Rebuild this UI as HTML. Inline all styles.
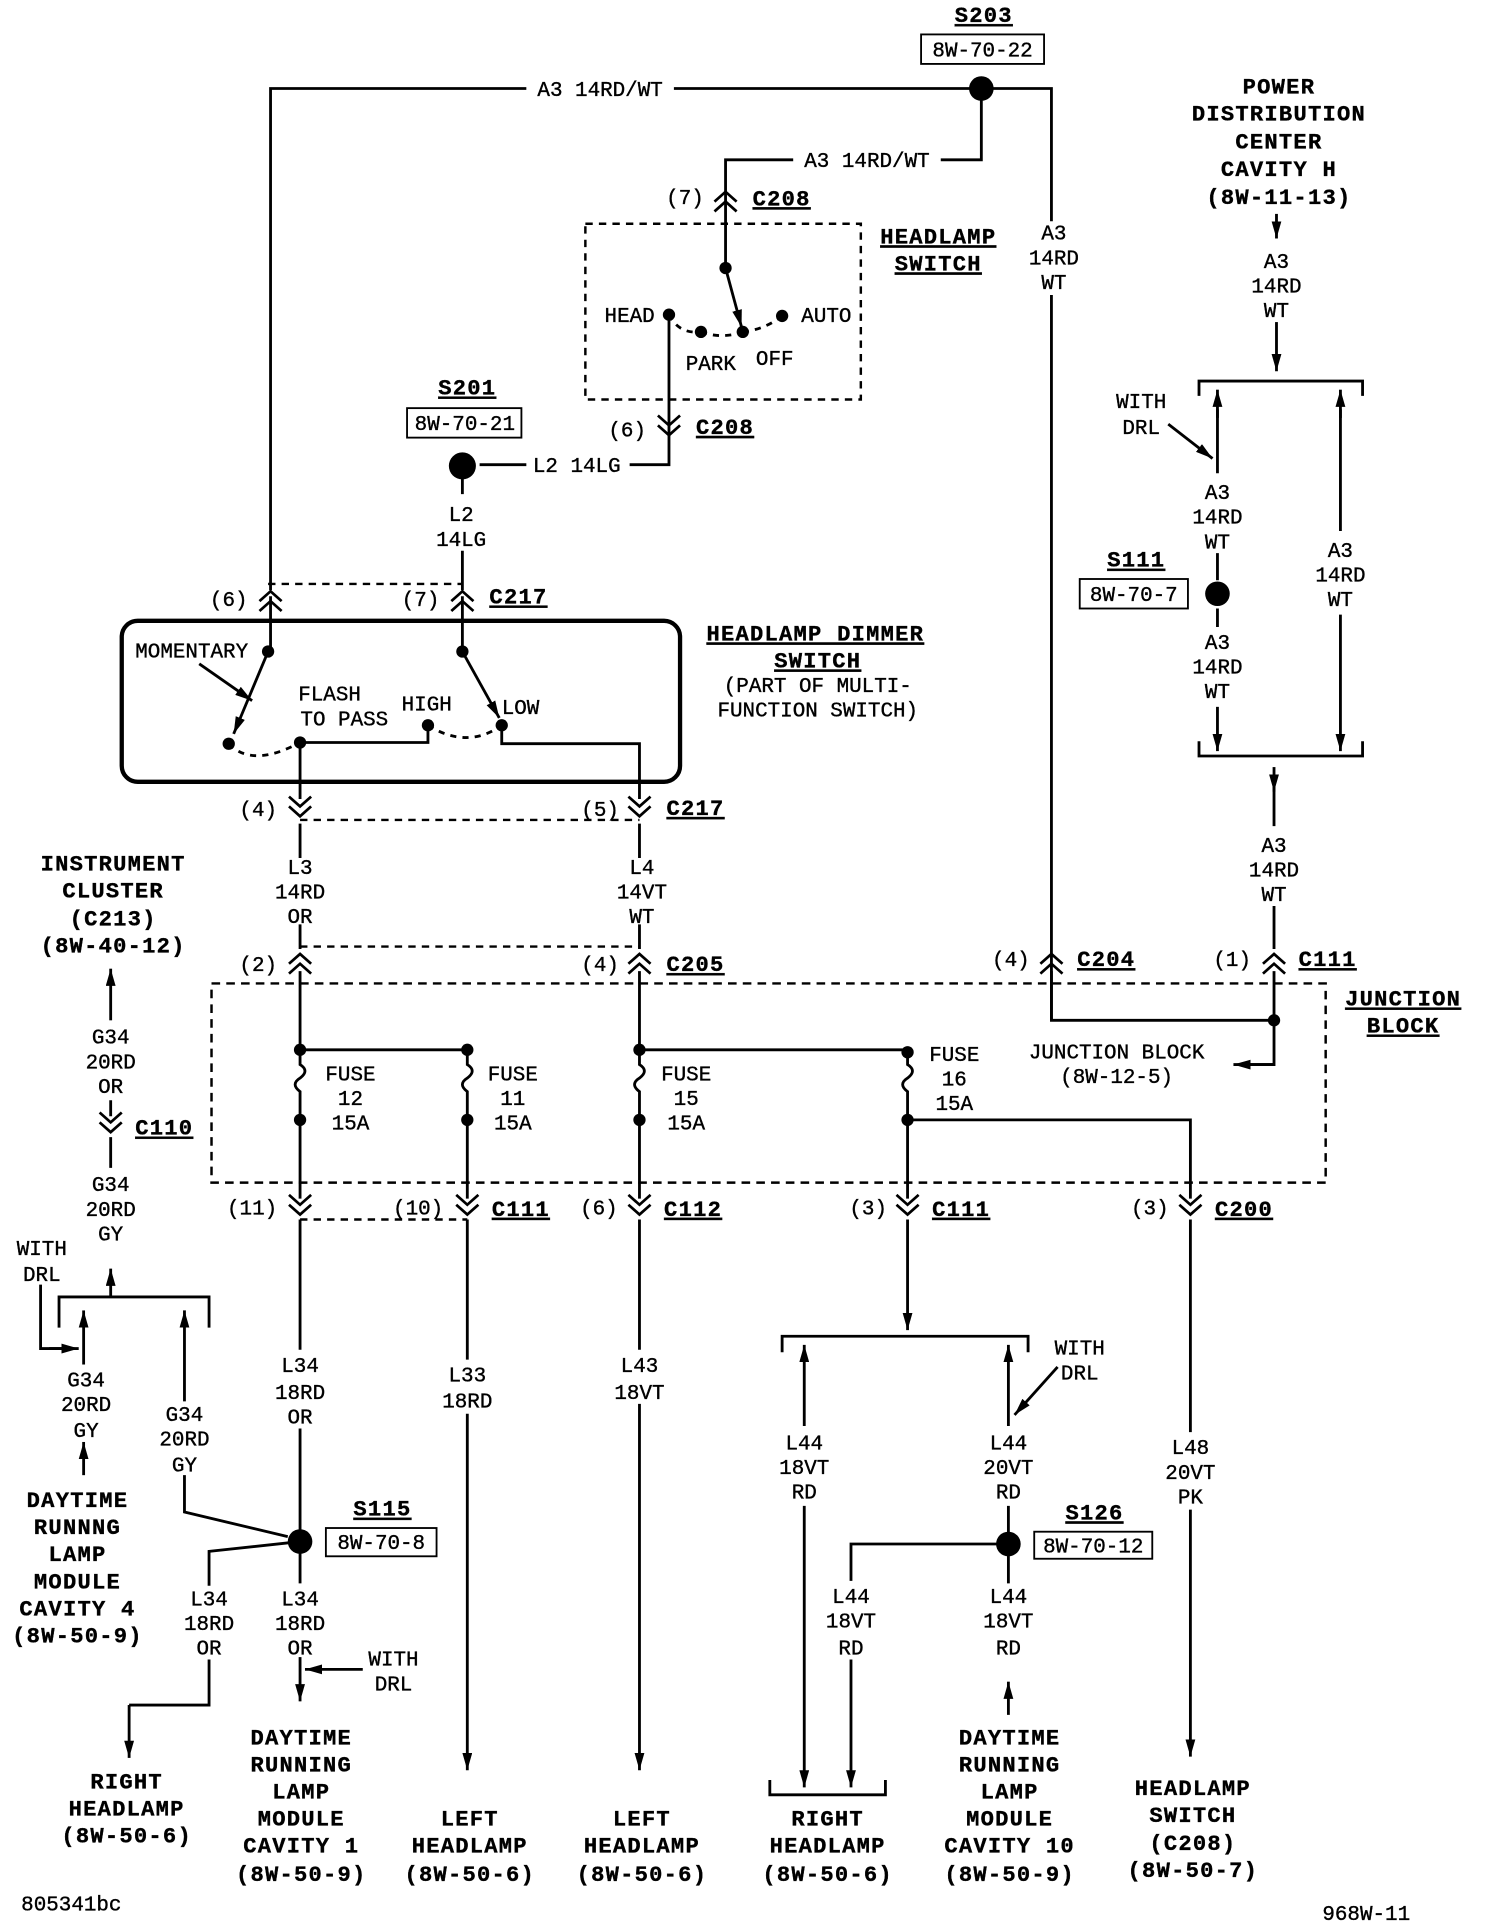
<!DOCTYPE html>
<html><head><meta charset="utf-8"><style>
html,body{margin:0;padding:0;background:#fff;}
svg{display:block;}
text{font-family:"Liberation Mono",monospace;font-size:17px;fill:#000;text-anchor:middle;stroke:#000;stroke-width:0.3px;}
.b{font-weight:bold;font-size:18px;letter-spacing:1px;}
.l{text-anchor:start;}
.r{text-anchor:end;}
</style></head><body>
<svg width="1488" height="1930" viewBox="0 0 1210 1570" preserveAspectRatio="none" xmlns="http://www.w3.org/2000/svg">
<defs>
<marker id="a" viewBox="0 0 14 8" refX="14" refY="4" markerWidth="14" markerHeight="8" orient="auto" markerUnits="userSpaceOnUse"><path d="M0,0 L14,4 L0,8 z"/></marker>
<symbol id="cu" overflow="visible"><polyline points="-9,4 0,-4 9,4" fill="none" stroke="#000" stroke-width="2.2"/><polyline points="-9,12 0,4 9,12" fill="none" stroke="#000" stroke-width="2.2"/></symbol>
<symbol id="cd" overflow="visible"><polyline points="-9,-12 0,-4 9,-12" fill="none" stroke="#000" stroke-width="2.2"/><polyline points="-9,-4 0,4 9,-4" fill="none" stroke="#000" stroke-width="2.2"/></symbol>
</defs>
<g fill="none" stroke="#000" stroke-width="2.3">
<path d="M220,480 V72 H428 M548,72 H798 H855 V180 M855,240 V830 H1036"/>
<path d="M798,72 V130 H765 M645,130 H590 V218"/>
<rect x="476" y="182" width="224" height="143" stroke-dasharray="6,5" stroke-width="2"/>
<line x1="590" y1="218" x2="603" y2="266" marker-end="url(#a)"/>
<path d="M544,256 Q552,272 570,270 M570,270 Q587,276 604,270 M604,270 Q622,268 636,257" stroke-dasharray="5,5"/>
<path d="M544,256 V378 H512 M428,378 H390"/>
<path d="M376,378 V402 M376,448 V480"/>
<rect x="99" y="505" width="454" height="131" rx="13" stroke-width="3.5"/>
<line x1="218" y1="475" x2="376" y2="475" stroke-dasharray="6,5" stroke-width="2"/>
<path d="M220,485 V530 M376,485 V530"/>
<line x1="218" y1="530" x2="190" y2="597" marker-end="url(#a)"/>
<line x1="162" y1="540" x2="205" y2="570" marker-end="url(#a)"/>
<line x1="376" y1="530" x2="406" y2="584" marker-end="url(#a)"/>
<path d="M186,605 Q205,625 244,604 M348,590 Q380,610 408,590" stroke-dasharray="5,5"/>
<path d="M244,604 V650 M244,670 V698 M244,752 V772 M244,790 V854 M244,604 H348 V590"/>
<path d="M408,590 V605 H520 V650 M520,670 V698 M520,752 V772 M520,790 V854"/>
<line x1="244" y1="667" x2="520" y2="667" stroke-dasharray="6,5" stroke-width="2"/>
<line x1="244" y1="770" x2="520" y2="770" stroke-dasharray="6,5" stroke-width="2"/>
<rect x="172" y="800" width="906" height="162" stroke-dasharray="7,5" stroke-width="2"/>
<path d="M244,854 H380 M520,854 H738"/>
<path d="M244,854 V866 q8,5 0,11 q-8,5 0,11 V975 M380,854 V866 q8,5 0,11 q-8,5 0,11 V975 M520,854 V866 q8,5 0,11 q-8,5 0,11 V975 M738,854 V866 q8,5 0,11 q-8,5 0,11 V975"/>
<path d="M738,911 H968 V975"/>
<line x1="244" y1="992" x2="380" y2="992" stroke-dasharray="6,5" stroke-width="2"/>
<path d="M1036,830 V866 H1015" />
<line x1="1036" y1="866" x2="1003" y2="866" marker-end="url(#a)"/>
<line x1="1038" y1="174" x2="1038" y2="194" marker-end="url(#a)"/>
<line x1="1038" y1="262" x2="1038" y2="302" marker-end="url(#a)"/>
<path d="M975,322 V310 H1108 V322 M975,603 V615 H1108 V603"/>
<line x1="990" y1="340" x2="990" y2="317" marker-end="url(#a)"/>
<path d="M990,333 V385 M990,450 V472 M990,495 V510"/>
<line x1="990" y1="575" x2="990" y2="611" marker-end="url(#a)"/>
<line x1="1090" y1="340" x2="1090" y2="317" marker-end="url(#a)"/>
<path d="M1090,333 V432"/>
<line x1="1090" y1="500" x2="1090" y2="611" marker-end="url(#a)"/>
<line x1="950" y1="345" x2="986" y2="373" marker-end="url(#a)"/>
<line x1="1036" y1="624" x2="1036" y2="644" marker-end="url(#a)"/>
<path d="M1036,640 V672 M1036,737 V772 M1036,790 V830"/>
<path d="M855,790 V830"/>
<line x1="90" y1="830" x2="90" y2="788" marker-end="url(#a)"/>
<path d="M90,895 V908 M90,925 V950"/>
<line x1="90" y1="1055" x2="90" y2="1032" marker-end="url(#a)"/>
<path d="M48,1080 V1055 H170 V1080"/>
<path d="M33,1045 V1097 H50"/>
<line x1="40" y1="1097" x2="64" y2="1097" marker-end="url(#a)"/>
<line x1="68" y1="1110" x2="68" y2="1066" marker-end="url(#a)"/>
<line x1="150" y1="1140" x2="150" y2="1066" marker-end="url(#a)"/>
<line x1="68" y1="1200" x2="68" y2="1173" marker-end="url(#a)"/>
<path d="M150,1200 V1230 L234,1250"/>
<path d="M244,992 V1098 M244,1162 V1254 V1288"/>
<path d="M244,1254 L170,1262 V1290 M170,1350 V1387 H105"/>
<line x1="105" y1="1387" x2="105" y2="1430" marker-end="url(#a)"/>
<line x1="244" y1="1348" x2="244" y2="1384" marker-end="url(#a)"/>
<line x1="295" y1="1358" x2="248" y2="1358" marker-end="url(#a)"/>
<path d="M380,992 V1106"/>
<line x1="380" y1="1150" x2="380" y2="1440" marker-end="url(#a)"/>
<path d="M520,992 V1098"/>
<line x1="520" y1="1142" x2="520" y2="1440" marker-end="url(#a)"/>
<line x1="738" y1="992" x2="738" y2="1082" marker-end="url(#a)"/>
<path d="M636,1100 V1087 H836 V1100"/>
<line x1="654" y1="1160" x2="654" y2="1094" marker-end="url(#a)"/>
<line x1="820" y1="1160" x2="820" y2="1094" marker-end="url(#a)"/>
<line x1="860" y1="1112" x2="825" y2="1151" marker-end="url(#a)"/>
<line x1="654" y1="1225" x2="654" y2="1454" marker-end="url(#a)"/>
<path d="M820,1225 V1256 H692 V1286 M820,1256 V1288"/>
<line x1="692" y1="1350" x2="692" y2="1454" marker-end="url(#a)"/>
<line x1="820" y1="1395" x2="820" y2="1368" marker-end="url(#a)"/>
<path d="M626,1448 V1460 H720 V1448"/>
<path d="M968,992 V1165"/>
<line x1="968" y1="1228" x2="968" y2="1429" marker-end="url(#a)"/>
<rect x="749" y="28" width="100" height="24" stroke-width="1.5"/>
<rect x="331" y="332" width="93" height="24" stroke-width="1.5"/>
<rect x="878" y="471" width="88" height="24" stroke-width="1.5"/>
<rect x="265" y="1243" width="90" height="23" stroke-width="1.5"/>
<rect x="841" y="1246" width="96" height="22" stroke-width="1.5"/>
</g>
<use href="#cu" x="590" y="160"/><use href="#cd" x="544" y="350"/>
<use href="#cu" x="220" y="485"/><use href="#cu" x="376" y="485"/>
<use href="#cd" x="244" y="660"/><use href="#cd" x="520" y="660"/>
<use href="#cu" x="244" y="780"/><use href="#cu" x="520" y="780"/>
<use href="#cu" x="855" y="780"/><use href="#cu" x="1036" y="780"/>
<use href="#cd" x="90" y="917"/>
<use href="#cd" x="244" y="984"/><use href="#cd" x="380" y="984"/><use href="#cd" x="520" y="984"/><use href="#cd" x="738" y="984"/><use href="#cd" x="968" y="984"/>
<g fill="#000">
<circle cx="798" cy="72" r="10"/><circle cx="376" cy="379" r="11"/><circle cx="990" cy="483" r="10"/>
<circle cx="244" cy="1254" r="10"/><circle cx="820" cy="1256" r="10"/>
<circle cx="590" cy="218" r="5"/><circle cx="544" cy="256" r="5"/><circle cx="570" cy="270" r="5"/><circle cx="604" cy="270" r="5"/><circle cx="636" cy="257" r="5"/>
<circle cx="218" cy="530" r="5"/><circle cx="376" cy="530" r="5"/><circle cx="186" cy="605" r="5"/><circle cx="244" cy="604" r="5"/><circle cx="348" cy="590" r="5"/><circle cx="408" cy="590" r="5"/>
<circle cx="244" cy="854" r="5"/><circle cx="380" cy="854" r="5"/><circle cx="520" cy="854" r="5"/><circle cx="738" cy="856" r="5"/>
<circle cx="244" cy="911" r="5"/><circle cx="380" cy="911" r="5"/><circle cx="520" cy="911" r="5"/><circle cx="738" cy="911" r="5"/>
<circle cx="1036" cy="830" r="5"/>
</g>
<text x="488" y="78">A3 14RD/WT</text>
<text x="705" y="136">A3 14RD/WT</text>
<text class="b" x="800" y="18" text-decoration="underline">S203</text>
<text x="799" y="46">8W-70-22</text>
<text x="857" y="195">A3</text><text x="857" y="215">14RD</text><text x="857" y="235">WT</text>
<text x="557" y="166">(7)</text><text class="b l" x="612" y="167" text-decoration="underline">C208</text>
<text class="b" x="763" y="198" text-decoration="underline">HEADLAMP</text><text class="b" x="763" y="220" text-decoration="underline">SWITCH</text>
<text x="512" y="262">HEAD</text><text x="672" y="262">AUTO</text><text x="578" y="301">PARK</text><text x="630" y="297">OFF</text>
<text x="510" y="355">(6)</text><text class="b l" x="566" y="353" text-decoration="underline">C208</text>
<text x="469" y="384">L2 14LG</text>
<text class="b" x="380" y="321" text-decoration="underline">S201</text><text x="378" y="350">8W-70-21</text>
<text x="375" y="424">L2</text><text x="375" y="444">14LG</text>
<text x="186" y="493">(6)</text><text x="342" y="493">(7)</text><text class="b l" x="398" y="491" text-decoration="underline">C217</text>
<text class="b" x="663" y="521" text-decoration="underline">HEADLAMP DIMMER</text><text class="b" x="665" y="543" text-decoration="underline">SWITCH</text>
<text x="665" y="563">(PART OF MULTI-</text><text x="665" y="583">FUNCTION SWITCH)</text>
<text class="l" x="110" y="535">MOMENTARY</text>
<text x="268" y="570">FLASH</text><text x="280" y="590">TO PASS</text><text x="347" y="578">HIGH</text><text class="l" x="408" y="581">LOW</text>
<text x="210" y="664">(4)</text><text x="488" y="664">(5)</text><text class="b l" x="542" y="663" text-decoration="underline">C217</text>
<text x="244" y="711">L3</text><text x="244" y="731">14RD</text><text x="244" y="751">OR</text>
<text x="522" y="711">L4</text><text x="522" y="731">14VT</text><text x="522" y="751">WT</text>
<text x="210" y="790">(2)</text><text x="488" y="790">(4)</text><text class="b l" x="542" y="790" text-decoration="underline">C205</text>
<text x="822" y="786">(4)</text><text class="b l" x="876" y="786" text-decoration="underline">C204</text>
<text x="1002" y="786">(1)</text><text class="b l" x="1056" y="786" text-decoration="underline">C111</text>
<text class="b" x="1141" y="818" text-decoration="underline">JUNCTION</text><text class="b" x="1141" y="840" text-decoration="underline">BLOCK</text>
<text x="908" y="861">JUNCTION BLOCK</text><text x="908" y="881">(8W-12-5)</text>
<text x="285" y="879">FUSE</text><text x="285" y="899">12</text><text x="285" y="919">15A</text>
<text x="417" y="879">FUSE</text><text x="417" y="899">11</text><text x="417" y="919">15A</text>
<text x="558" y="879">FUSE</text><text x="558" y="899">15</text><text x="558" y="919">15A</text>
<text x="776" y="863">FUSE</text><text x="776" y="883">16</text><text x="776" y="903">15A</text>
<text x="205" y="988">(11)</text><text x="340" y="988">(10)</text><text class="b l" x="400" y="989" text-decoration="underline">C111</text>
<text x="487" y="988">(6)</text><text class="b l" x="540" y="989" text-decoration="underline">C112</text>
<text x="706" y="988">(3)</text><text class="b l" x="758" y="989" text-decoration="underline">C111</text>
<text x="935" y="988">(3)</text><text class="b l" x="988" y="989" text-decoration="underline">C200</text>
<text class="b" x="1040" y="76">POWER</text><text class="b" x="1040" y="98">DISTRIBUTION</text><text class="b" x="1040" y="121">CENTER</text><text class="b" x="1040" y="143">CAVITY H</text><text class="b" x="1040" y="166">(8W-11-13)</text>
<text x="1038" y="218">A3</text><text x="1038" y="238">14RD</text><text x="1038" y="258">WT</text>
<text x="928" y="332">WITH</text><text x="928" y="353">DRL</text>
<text x="990" y="406">A3</text><text x="990" y="426">14RD</text><text x="990" y="446">WT</text>
<text class="b" x="924" y="461" text-decoration="underline">S111</text><text x="922" y="489">8W-70-7</text>
<text x="990" y="528">A3</text><text x="990" y="548">14RD</text><text x="990" y="568">WT</text>
<text x="1090" y="453">A3</text><text x="1090" y="473">14RD</text><text x="1090" y="493">WT</text>
<text x="1036" y="693">A3</text><text x="1036" y="713">14RD</text><text x="1036" y="733">WT</text>
<text class="b" x="92" y="708">INSTRUMENT</text><text class="b" x="92" y="730">CLUSTER</text><text class="b" x="92" y="753">(C213)</text><text class="b" x="92" y="775">(8W-40-12)</text>
<text x="90" y="849">G34</text><text x="90" y="869">20RD</text><text x="90" y="889">OR</text>
<text class="b l" x="110" y="923" text-decoration="underline">C110</text>
<text x="90" y="969">G34</text><text x="90" y="989">20RD</text><text x="90" y="1009">GY</text>
<text x="34" y="1021">WITH</text><text x="34" y="1042">DRL</text>
<text x="70" y="1128">G34</text><text x="70" y="1148">20RD</text><text x="70" y="1169">GY</text>
<text x="150" y="1156">G34</text><text x="150" y="1176">20RD</text><text x="150" y="1197">GY</text>
<text class="b" x="63" y="1226">DAYTIME</text><text class="b" x="63" y="1248">RUNNNG</text><text class="b" x="63" y="1270">LAMP</text><text class="b" x="63" y="1292">MODULE</text><text class="b" x="63" y="1314">CAVITY 4</text><text class="b" x="63" y="1336">(8W-50-9)</text>
<text x="244" y="1116">L34</text><text x="244" y="1138">18RD</text><text x="244" y="1158">OR</text>
<text class="b" x="311" y="1233" text-decoration="underline">S115</text><text x="310" y="1260">8W-70-8</text>
<text x="170" y="1306">L34</text><text x="170" y="1326">18RD</text><text x="170" y="1346">OR</text>
<text x="244" y="1306">L34</text><text x="244" y="1326">18RD</text><text x="244" y="1346">OR</text>
<text x="320" y="1355">WITH</text><text x="320" y="1375">DRL</text>
<text class="b" x="103" y="1455">RIGHT</text><text class="b" x="103" y="1477">HEADLAMP</text><text class="b" x="103" y="1499">(8W-50-6)</text>
<text class="b" x="245" y="1419">DAYTIME</text><text class="b" x="245" y="1441">RUNNING</text><text class="b" x="245" y="1463">LAMP</text><text class="b" x="245" y="1485">MODULE</text><text class="b" x="245" y="1507">CAVITY 1</text><text class="b" x="245" y="1530">(8W-50-9)</text>
<text x="380" y="1124">L33</text><text x="380" y="1145">18RD</text>
<text class="b" x="382" y="1485">LEFT</text><text class="b" x="382" y="1507">HEADLAMP</text><text class="b" x="382" y="1530">(8W-50-6)</text>
<text x="520" y="1116">L43</text><text x="520" y="1138">18VT</text>
<text class="b" x="522" y="1485">LEFT</text><text class="b" x="522" y="1507">HEADLAMP</text><text class="b" x="522" y="1530">(8W-50-6)</text>
<text x="878" y="1102">WITH</text><text x="878" y="1122">DRL</text>
<text x="654" y="1179">L44</text><text x="654" y="1199">18VT</text><text x="654" y="1219">RD</text>
<text x="820" y="1179">L44</text><text x="820" y="1199">20VT</text><text x="820" y="1219">RD</text>
<text class="b" x="890" y="1236" text-decoration="underline">S126</text><text x="889" y="1263">8W-70-12</text>
<text x="692" y="1304">L44</text><text x="692" y="1324">18VT</text><text x="692" y="1346">RD</text>
<text x="820" y="1304">L44</text><text x="820" y="1324">18VT</text><text x="820" y="1346">RD</text>
<text class="b" x="673" y="1485">RIGHT</text><text class="b" x="673" y="1507">HEADLAMP</text><text class="b" x="673" y="1530">(8W-50-6)</text>
<text class="b" x="821" y="1419">DAYTIME</text><text class="b" x="821" y="1441">RUNNING</text><text class="b" x="821" y="1463">LAMP</text><text class="b" x="821" y="1485">MODULE</text><text class="b" x="821" y="1507">CAVITY 10</text><text class="b" x="821" y="1530">(8W-50-9)</text>
<text x="968" y="1183">L48</text><text x="968" y="1203">20VT</text><text x="968" y="1223">PK</text>
<text class="b" x="970" y="1460">HEADLAMP</text><text class="b" x="970" y="1482">SWITCH</text><text class="b" x="970" y="1505">(C208)</text><text class="b" x="970" y="1527">(8W-50-7)</text>
<text x="58" y="1554">805341bc</text><text x="1111" y="1562">968W-11</text>
</svg>
</body></html>
